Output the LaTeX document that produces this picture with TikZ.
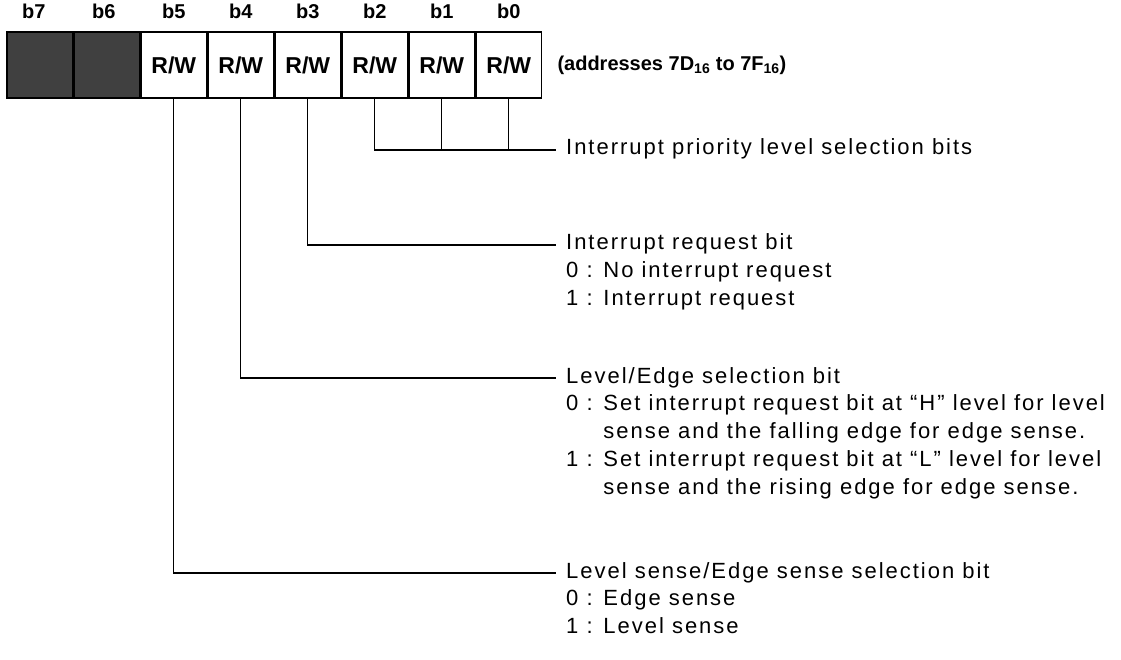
\documentclass[tikz,border=0pt]{standalone}
\usepackage{fontspec}
\setmainfont{Liberation Sans}
\newfontfamily\descfont[LetterSpace=9]{Liberation Sans}
\usetikzlibrary{positioning}

\begin{document}
\begin{tikzpicture}[x=1pt,y=-1pt,font=\fontsize{20}{24}\selectfont,node distance=0pt]
    \tikzset{
      cell/.style={draw, line width=1.4pt, minimum width=65.6pt, minimum height=66pt, inner sep=0pt, font=\fontsize{23}{26}\selectfont\bfseries},
      unused/.style={cell, fill=black!75},
      bitno/.style={inner sep=0pt, font=\fontsize{20}{24}\selectfont\bfseries},
      txt/.style={anchor=west, inner xsep=10pt, inner ysep=0pt, text height=15pt, text depth=5pt, font=\descfont\fontsize{22}{24}\selectfont},
      wire/.style={line width=1.1pt}
    }
    \useasboundingbox (0,0) rectangle (1121,660);
    % register cells
    \node[unused] (b7) at (39.8,65) {};
    \node[unused, right=of b7] (b6) {};
    \node[cell, right=of b6] (b5) {R/W};
    \node[cell, right=of b5] (b4) {R/W};
    \node[cell, right=of b4] (b3) {R/W};
    \node[cell, right=of b3] (b2) {R/W};
    \node[cell, right=of b2] (b1) {R/W};
    \node[cell, right=of b1] (b0) {R/W};
    \node[bitno, above=12pt of b7, xshift=-6pt] (n7) {b7};
    \node[bitno, above=12pt of b6, xshift=-3pt] (n6) {b6};
    \node[bitno, above=12pt of b5] (n5) {b5};
    \node[bitno, above=12pt of b4] (n4) {b4};
    \node[bitno, above=12pt of b3] (n3) {b3};
    \node[bitno, above=12pt of b2] (n2) {b2};
    \node[bitno, above=12pt of b1] (n1) {b1};
    \node[bitno, above=12pt of b0] (n0) {b0};
    \node[bitno, right=15pt of b0] (addr) {(addresses 7D\textsubscript{16} to 7F\textsubscript{16})};
    % descriptions
    \node[txt] (prio) at (556,150) {Interrupt priority level selection bits};
    \node[txt] (req) at (556,245) {Interrupt request bit};
    \node[txt, below=7.5pt of req.south west, anchor=north west] (req0) {0 : No interrupt request};
    \node[txt, below=7.5pt of req0.south west, anchor=north west] (req1) {1 : Interrupt request};
    \node[txt] (edge) at (556,378) {Level/Edge selection bit};
    \node[txt, below=7.5pt of edge.south west, anchor=north west] (edge0) {0 : Set interrupt request bit at “H” level for level};
    \node[txt, below=7.5pt of edge0.south west, anchor=north west] (edge0b) {\phantom{0 : }sense and the falling edge for edge sense.};
    \node[txt, below=7.5pt of edge0b.south west, anchor=north west] (edge1) {1 : Set interrupt request bit at “L” level for level};
    \node[txt, below=7.5pt of edge1.south west, anchor=north west] (edge1b) {\phantom{1 : }sense and the rising edge for edge sense.};
    \node[txt] (sense) at (556,573) {Level sense/Edge sense selection bit};
    \node[txt, below=7.5pt of sense.south west, anchor=north west] (sense0) {0 : Edge sense};
    \node[txt, below=7.5pt of sense0.south west, anchor=north west] (sense1) {1 : Level sense};
    % leader lines
    \draw[wire] (b2.south) |- (prio.west);
    \draw[wire] (b1.south) -- (b1.south |- prio.west);
    \draw[wire] (b0.south) -- (b0.south |- prio.west);
    \draw[wire] (b3.south) |- (req.west);
    \draw[wire] (b4.south) |- (edge.west);
    \draw[wire] (b5.south) |- (sense.west);
\end{tikzpicture}
\end{document}
